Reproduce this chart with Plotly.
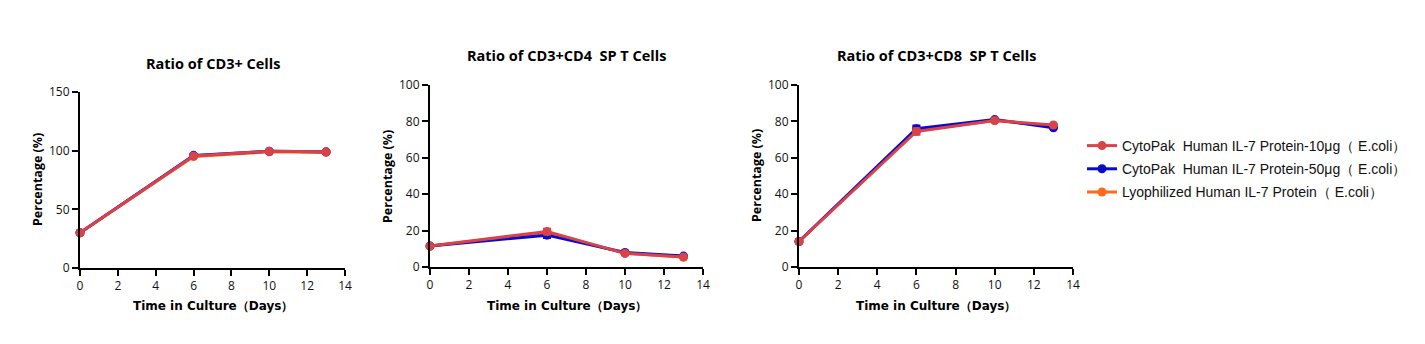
import plotly.graph_objects as go

days = [0, 6, 10, 13]

titles = ["Ratio of CD3+ Cells", "Ratio of CD3+CD4  SP T Cells", "Ratio of CD3+CD8  SP T Cells"]
series_names = [
    "CytoPak  Human IL-7 Protein-10μg（ E.coli）",
    "CytoPak  Human IL-7 Protein-50μg（ E.coli）",
    "Lyophilized Human IL-7 Protein（ E.coli）",
]
colors = ["#D8434A", "#0A0ACF", "#FF6A1A"]

cd3_10 = [30, 95.5, 99.5, 99]
cd3_50 = [30, 96, 99.5, 99]
cd3_lyo = [30, 95, 99, 98.5]

cd4_10 = [11.5, 19.5, 7.5, 5.5]
cd4_50 = [11.5, 17.5, 8, 6]
cd4_lyo = [11.5, 19, 7.5, 5.5]

cd8_10 = [14, 74.5, 80.5, 78]
cd8_50 = [14, 76, 81, 76.5]
cd8_lyo = [14, 75, 80.5, 77.5]

# error (SD) values, visible only at day 6 in the CD4/CD8 panels
cd3_err = [0, 0, 0, 0]
cd4_err_10 = [0, 1.3, 0, 0]
cd4_err_50 = [0, 1.3, 0, 0]
cd8_err_10 = [0, 1.5, 0, 0]
cd8_err_50 = [0, 1.5, 0, 0]

panel_data = [
    [cd3_10, cd3_50, cd3_lyo],
    [cd4_10, cd4_50, cd4_lyo],
    [cd8_10, cd8_50, cd8_lyo],
]
panel_err = [
    [cd3_err, cd3_err, cd3_err],
    [cd4_err_10, cd4_err_50, cd3_err],
    [cd8_err_10, cd8_err_50, cd3_err],
]
y_max = [150, 100, 100]
y_dtick = [50, 20, 20]

W, H = 1425, 344
# pixel boxes: (x0, x1, ytop, ybottom)
boxes = [(80, 345, 92, 268), (430, 703, 85, 267), (799, 1073, 85, 267)]

fig = go.Figure()
for p in range(3):
    xa = "x" if p == 0 else f"x{p+1}"
    ya = "y" if p == 0 else f"y{p+1}"
    # draw order: orange, blue, red on top
    for s in [2, 1, 0]:
        fig.add_trace(go.Scatter(
            x=days, y=panel_data[p][s], xaxis=xa, yaxis=ya,
            mode="lines+markers", name=series_names[s],
            line=dict(color=colors[s], width=3),
            marker=dict(color=colors[s], size=9, symbol="circle"),
            error_y=dict(type="data", array=panel_err[p][s], visible=True,
                         color=colors[s], thickness=3, width=4),
            cliponaxis=False, legendgroup=f"g{s}",
            showlegend=(p == 0), legendrank=s + 1,
        ))

axis_font = dict(family="Open Sans, Arial, sans-serif", size=12, color="#111")
layout = dict(
    template="none",
    width=W, height=H, margin=dict(l=0, r=0, t=0, b=0, pad=0, autoexpand=False),
    plot_bgcolor="white", paper_bgcolor="white",
    showlegend=True,
    legend=dict(x=1082 / W, y=1 - 130 / H, xanchor="left", yanchor="top",
                font=dict(family="Liberation Sans, Arial, sans-serif", size=14, color="#111"),
                tracegroupgap=2, itemwidth=30, bgcolor="rgba(0,0,0,0)", borderwidth=0),
)
annotations = []
for p in range(3):
    x0, x1, yt, yb = boxes[p]
    sfx = "" if p == 0 else str(p + 1)
    layout["xaxis" + sfx] = dict(
        domain=[x0 / W, x1 / W], range=[0, 14], dtick=2, tick0=0,
        showline=True, linecolor="black", linewidth=2,
        ticks="outside", ticklen=6, tickwidth=2, tickcolor="black",
        showgrid=False, zeroline=False, tickfont=axis_font,
        anchor="y" + sfx, automargin=False,
    )
    layout["yaxis" + sfx] = dict(
        domain=[1 - yb / H, 1 - yt / H], range=[0, y_max[p]], dtick=y_dtick[p], tick0=0,
        showline=True, linecolor="black", linewidth=2,
        ticks="outside", ticklen=6, tickwidth=2, tickcolor="black",
        showgrid=False, zeroline=False, tickfont=axis_font,
        anchor="x" + sfx, automargin=False,
    )
    cx = (x0 + x1) / 2
    ty = 63 if p == 0 else 55
    annotations.append(dict(
        text=f"<b>{titles[p]}</b>", x=cx / W, y=1 - ty / H, xref="paper", yref="paper",
        showarrow=False, xanchor="center", yanchor="middle",
        font=dict(family="Open Sans, Arial, sans-serif", size=14.5, color="black"),
    ))
    annotations.append(dict(
        text="<b>Time in Culture（Days）</b>",
        x=cx / W, y=1 - 306 / H, xref="paper", yref="paper",
        showarrow=False, xanchor="center", yanchor="middle",
        font=dict(family="DejaVu Sans, Verdana, sans-serif", size=12, color="black"),
    ))
    annotations.append(dict(
        text="<b>Percentage (%)</b>", x=(x0 - 43) / W, y=1 - ((yt + yb) / 2) / H,
        xref="paper", yref="paper", textangle=-90,
        showarrow=False, xanchor="center", yanchor="middle",
        font=dict(family="Open Sans, Arial, sans-serif", size=12.5, color="black"),
    ))
layout["annotations"] = annotations
fig.update_layout(**layout)
fig.write_html("out.html")
